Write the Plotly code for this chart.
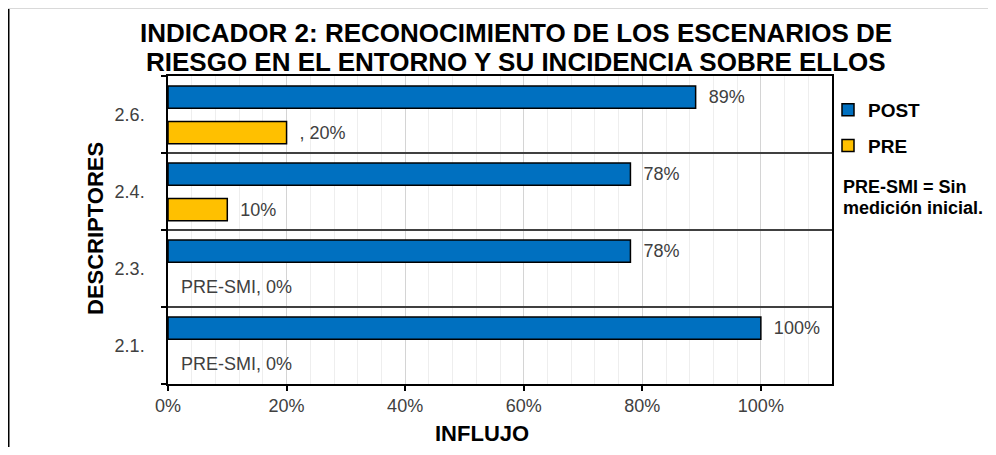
import plotly.graph_objects as go

# data listed top to bottom
categories = ["2.6.", "2.4.", "2.3.", "2.1."]
post_values = [0.89, 0.78, 0.78, 1.00]
pre_values = [0.20, 0.10, 0.0, 0.0]
post_labels = ["89%", "78%", "78%", "100%"]
pre_labels = [", 20%", "10%", "PRE-SMI, 0%", "PRE-SMI, 0%"]
x_ticks = [0, 0.2, 0.4, 0.6, 0.8, 1.0]
x_tick_labels = ["0%", "20%", "40%", "60%", "80%", "100%"]

FONT = "Arial, Liberation Sans, sans-serif"
PAD = "\u00a0\u00a0"
OFF = 8                      # page body margin
W, H = 996 - 2 * OFF, 455 - 2 * OFF
PL, PR, PT, PB = 168, 832, 76, 384   # plot area in page pixels
L, T = PL - OFF, PT - OFF
R, B = W - (PR - OFF), H - (PB - OFF)

fig = go.Figure()
fig.add_trace(go.Bar(
    name="<b>POST</b>", y=categories, x=post_values, orientation="h",
    marker=dict(color="#0070C0", line=dict(color="#000000", width=1.5)),
    text=[PAD + t for t in post_labels], textposition="outside", cliponaxis=False,
    textfont=dict(size=18, color="#404040", family=FONT),
    width=0.29, offset=0.08, legendgroup="a",
))
fig.add_trace(go.Bar(
    name="<b>PRE</b>", y=categories, x=pre_values, orientation="h",
    marker=dict(color="#FFC000",
                line=dict(color="#000000", width=[1.5 if v > 0 else 0 for v in pre_values])),
    text=[PAD + t for t in pre_labels], textposition="outside", cliponaxis=False,
    textfont=dict(size=18, color="#404040", family=FONT),
    width=0.29, offset=-0.38, legendgroup="b",
))

pw = PR - PL
ph = PB - PT

def px_x(p):
    return (p - PL) / pw

def px_y(p):
    return (PB - p) / ph

fig.update_layout(
    width=W, height=H,
    margin=dict(l=L, r=R, t=T, b=B),
    paper_bgcolor="white", plot_bgcolor="white",
    barmode="overlay",
    font=dict(family=FONT, color="#000000"),
    xaxis=dict(
        range=[0, 1.12], tickvals=x_ticks, ticktext=x_tick_labels,
        tickfont=dict(size=18, color="#404040"),
        ticks="outside", ticklen=5, tickcolor="#000000", tickwidth=1.5,
        showline=True, linecolor="#000000", linewidth=1.5, mirror=True,
        showgrid=True, gridcolor="#d4d4d4", gridwidth=1,
        minor=dict(dtick=0.04, showgrid=True, gridcolor="#eeeeee", gridwidth=1),
        zeroline=False, fixedrange=True,
    ),
    yaxis=dict(
        type="category", categoryorder="array", categoryarray=categories[::-1],
        tickson="boundaries", ticks="outside", ticklen=5, tickcolor="#000000", tickwidth=1.5,
        tickfont=dict(size=18, color="#404040"), ticklabelstandoff=18,
        showline=True, linecolor="#000000", linewidth=1.5, mirror=True,
        showgrid=True, gridcolor="#404040", gridwidth=1.5,
        range=[-0.5, 3.5], fixedrange=True,
    ),
    legend=dict(
        x=px_x(828), y=px_y(91), xanchor="left", yanchor="top",
        font=dict(size=19, family=FONT, color="#000000"),
        traceorder="grouped", tracegroupgap=8,
        bgcolor="rgba(0,0,0,0)",
    ),
    showlegend=True,
)

def note(text, x, y, size, xanchor="center", angle=0):
    fig.add_annotation(
        text=text, xref="paper", yref="paper", x=px_x(x), y=px_y(y),
        xanchor=xanchor, yanchor="middle", showarrow=False, textangle=angle,
        font=dict(size=size, family=FONT, color="#000000"),
    )

note("<b>INDICADOR 2: RECONOCIMIENTO DE LOS ESCENARIOS DE</b>", 516, 33, 26)
note("<b>RIESGO EN EL ENTORNO Y SU INCIDENCIA SOBRE ELLOS</b>", 516, 61.5, 26)
note("<b>PRE-SMI = Sin</b>", 841, 186.5, 18, xanchor="left")
note("<b>medición inicial.</b>", 841, 207.5, 18, xanchor="left")
note("<b>INFLUJO</b>", 482, 433, 22)
note("<b>DESCRIPTORES</b>", 95, 229, 22, angle=-90)

# outer frame (left black line, top light line)
fig.add_shape(type="line", xref="paper", yref="paper",
              x0=px_x(OFF + 0.75), x1=px_x(OFF + 0.75), y0=px_y(OFF), y1=px_y(OFF + H),
              line=dict(color="#000000", width=1.5))
fig.add_shape(type="line", xref="paper", yref="paper",
              x0=px_x(OFF), x1=px_x(OFF + W), y0=px_y(OFF + 0.5), y1=px_y(OFF + 0.5),
              line=dict(color="#d9d9d9", width=1))

fig.write_html("out.html")
